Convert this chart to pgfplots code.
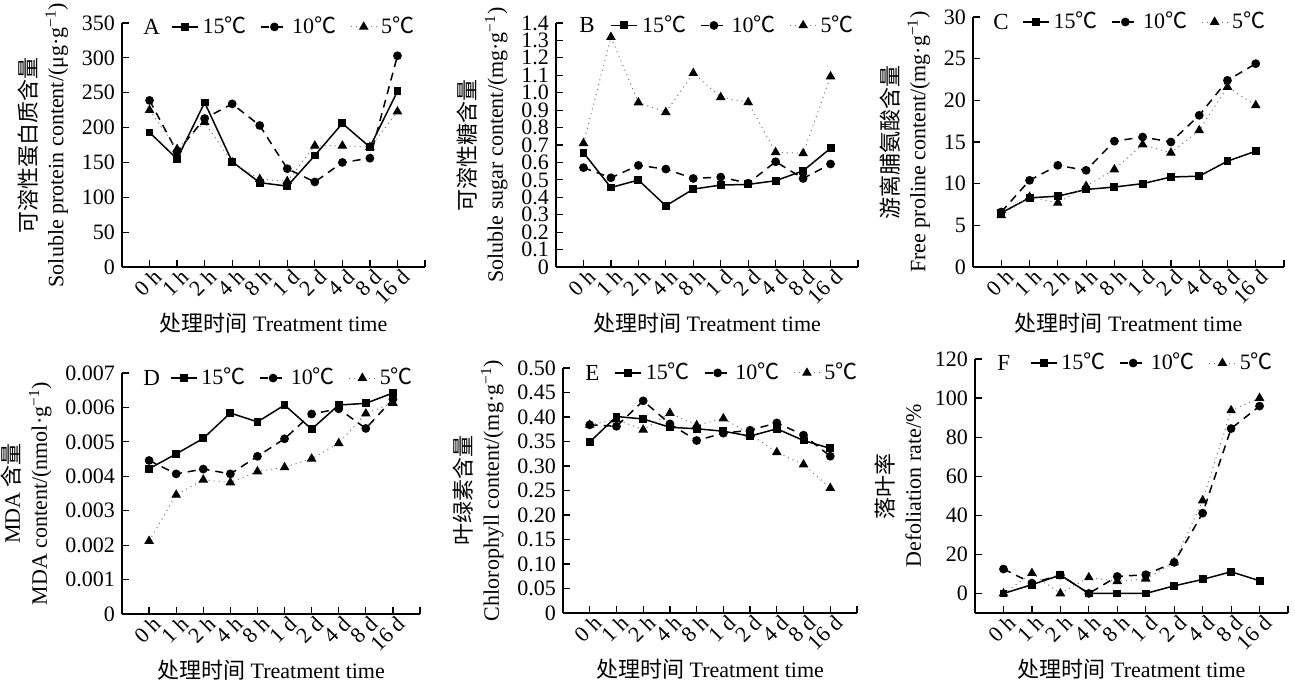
\documentclass[border=0pt]{standalone}
\usepackage{pgfplots}
\pgfplotsset{compat=1.18}
\usepackage{pgfplotstable}
\usepackage{fontspec}
\setmainfont{Liberation Serif}
\newfontfamily\cjk{Noto Sans CJK SC}
\newcommand{\C}{{\cjk ℃}}

% columns: x = time index (0 h ... 16 d), then 15, 10 and 5 degrees
\pgfplotstableread{
x  t15   t10   t5
0  193   239   225
1  155   165   169
2  236   213   208
3  151   234   150
4  121   203   126
5  116   141   123
6  160   122   174
7  206   150   174
8  172   156   172
9  252   303   223
}\dataA
\pgfplotstableread{
x  t15    t10    t5
0  0.656  0.570  0.710
1  0.456  0.512  1.319
2  0.499  0.583  0.944
3  0.351  0.562  0.888
4  0.447  0.508  1.112
5  0.470  0.516  0.974
6  0.474  0.481  0.945
7  0.495  0.604  0.658
8  0.552  0.508  0.652
9  0.681  0.591  1.093
}\dataB
\pgfplotstableread{
x  t15   t10   t5
0  6.5   6.6   6.2
1  8.3   10.4  8.4
2  8.5   12.2  7.7
3  9.3   11.6  9.7
4  9.6   15.1  11.7
5  10.0  15.6  14.7
6  10.8  15.0  13.7
7  10.9  18.2  16.4
8  12.7  22.4  21.6
9  13.9  24.4  19.4
}\dataC
\pgfplotstableread{
x  t15      t10      t5
0  0.00422  0.00446  0.00212
1  0.00465  0.00407  0.00346
2  0.00510  0.00421  0.00390
3  0.00584  0.00407  0.00382
4  0.00558  0.00458  0.00414
5  0.00607  0.00509  0.00426
6  0.00537  0.00581  0.00451
7  0.00607  0.00596  0.00496
8  0.00612  0.00539  0.00582
9  0.00642  0.00624  0.00613
}\dataD
\pgfplotstableread{
x  t15    t10    t5
0  0.349  0.384  0.384
1  0.401  0.381  0.395
2  0.396  0.433  0.374
3  0.379  0.386  0.408
4  0.376  0.352  0.383
5  0.371  0.367  0.397
6  0.361  0.373  0.365
7  0.376  0.388  0.328
8  0.352  0.363  0.303
9  0.336  0.320  0.255
}\dataE
\pgfplotstableread{
x  t15   t10   t5
0  0     12.5  0
1  4.5   5.3   10.4
2  9.4   9.4   0
3  0     0     8.2
4  0     8.7   6.2
5  0     9.6   7.5
6  3.9   15.9  15.9
7  7.2   41.1  47.6
8  11.1  84.4  93.7
9  6.5   95.9  100
}\dataF

\tikzset{letter/.style={anchor=west, inner sep=0pt, font=\fontsize{11.5}{13}\selectfont}}
\pgfplotsset{
  panel/.style={
    scale only axis,
    anchor=south west,
    clip=false,
    xmin=-1, xmax=10,
    xtick={0,...,10},
    xticklabels={0 h,1 h,2 h,4 h,8 h,1 d,2 d,4 d,8 d,16 d,},
    xticklabel style={rotate=45, anchor=north east, inner sep=1pt, xshift=2pt},
    axis lines*=left,
    axis line style={-, line width=0.6pt},
    tick align=inside,
    major tick length=3.5pt,
    every tick/.style={black, line width=0.6pt},
    tick label style={font=\fontsize{11}{13}\selectfont},
    label style={font=\fontsize{11}{13.5}\selectfont},
    /pgf/number format/assume math mode=true,
    scaled y ticks=false,
    xlabel={{\cjk 处理时间} Treatment time},
    xlabel style={at={(axis description cs:0.5,0)}, anchor=center, yshift=-28pt},
    ylabel style={align=center},
    legend columns=3,
    legend style={draw=none, fill=none, anchor=center,
      font=\fontsize{11}{13}\selectfont, inner sep=0pt,
      /tikz/every even column/.append style={column sep=5pt}},
    legend image code/.code={\draw[mark repeat=2,mark phase=2,##1]
      plot coordinates {(0pt,0pt) (6.5pt,0pt) (13pt,0pt)};},
  },
  s15/.style={black, line width=0.75pt, mark=square*, mark size=1.6pt, mark options={solid}},
  s10/.style={black, line width=0.75pt, dash pattern=on 4pt off 3pt, mark=*, mark size=1.8pt, mark options={solid}},
  s5/.style={black!55, line width=0.5pt, dotted, mark=triangle*, mark size=2.3pt, mark options={solid, black}},
}
\newcommand{\series}[1]{%
  \addplot[s15] table[x=x, y=t15] {#1};
  \addplot[s10] table[x=x, y=t10] {#1};
  \addplot[s5]  table[x=x, y=t5]  {#1};
  \legend{15\C, 10\C, 5\C}}

\begin{document}
\begin{tikzpicture}
\useasboundingbox (0pt,0pt) rectangle (647.5pt,341pt);

% A
\begin{axis}[panel, at={(61pt,207.5pt)}, width=151.5pt, height=122pt,
    ymin=0, ymax=350, ytick={0,50,...,350},
    ylabel={{\cjk 可溶性蛋白质含量}\\Soluble protein content/(μg·g\textsuperscript{−1})},
    legend style={at={(axis description cs:0.57,0.984)}}]
  \series{\dataA}
  \node[letter] at (rel axis cs:0,0.984) [xshift=10.5pt] {A};
\end{axis}

% B
\begin{axis}[panel, at={(278pt,207.5pt)}, width=151pt, height=122pt,
    ymin=0, ymax=1.4, ytick={0,0.1,...,1.41},
    yticklabels={0,0.1,0.2,0.3,0.4,0.5,0.6,0.7,0.8,0.9,1.0,1.1,1.2,1.3,1.4},
    ylabel={{\cjk 可溶性糖含量}\\Soluble sugar content/(mg·g\textsuperscript{−1})},
    legend style={at={(axis description cs:0.59,0.99)}}]
  \series{\dataB}
  \node[letter] at (rel axis cs:0,0.99) [xshift=11.5pt] {B};
\end{axis}

% C
\begin{axis}[panel, at={(486.5pt,207.5pt)}, width=155.5pt, height=125pt,
    ymin=0, ymax=30, ytick={0,5,...,30},
    ylabel={{\cjk 游离脯氨酸含量}\\Free proline content/(mg·g\textsuperscript{−1})},
    legend style={at={(axis description cs:0.555,0.98)}}]
  \series{\dataC}
  \node[letter] at (rel axis cs:0,0.98) [xshift=10pt] {C};
\end{axis}

% D
\begin{axis}[panel, at={(61pt,34pt)}, width=149pt, height=120.5pt,
    ymin=0, ymax=0.007, ytick={0,0.001,...,0.00701},
    yticklabels={0,0.001,0.002,0.003,0.004,0.005,0.006,0.007},
    ylabel={MDA {\cjk 含量}\\MDA content/(nmol·g\textsuperscript{−1})},
    legend style={at={(axis description cs:0.575,0.979)}}]
  \series{\dataD}
  \node[letter] at (rel axis cs:0,0.979) [xshift=10.5pt] {D};
\end{axis}

% E
\begin{axis}[panel, at={(281.5pt,34.5pt)}, width=147pt, height=122.5pt,
    ymin=0, ymax=0.5, ytick={0,0.05,...,0.501},
    yticklabels={0,0.05,0.10,0.15,0.20,0.25,0.30,0.35,0.40,0.45,0.50},
    ylabel={{\cjk 叶绿素含量}\\Chlorophyll content/(mg·g\textsuperscript{−1})},
    legend style={at={(axis description cs:0.595,0.98)}}]
  \series{\dataE}
  \node[letter] at (rel axis cs:0,0.98) [xshift=11pt] {E};
\end{axis}

% F
\begin{axis}[panel, at={(487.5pt,34.5pt)}, width=156.5pt, height=127pt,
    ymin=-10, ymax=120, ytick={0,20,...,120},
    ylabel={{\cjk 落叶率}\\Defoliation rate/\%},
    legend style={at={(axis description cs:0.57,0.984)}}]
  \series{\dataF}
  \node[letter] at (rel axis cs:0,0.984) [xshift=11pt] {F};
\end{axis}
\end{tikzpicture}
\end{document}
